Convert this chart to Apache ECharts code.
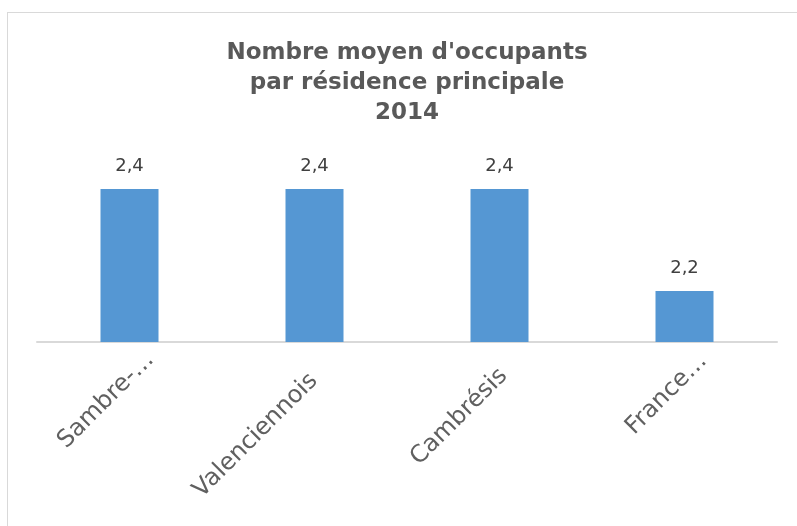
<!DOCTYPE html>
<html>
<head>
<meta charset="UTF-8">
<title>Nombre moyen d'occupants</title>
<script src="https://cdn.jsdelivr.net/npm/echarts@6/dist/echarts.min.js"></script>
<style>
  html, body { margin: 0; padding: 0; background: #fff; overflow: hidden; }
  #frame { position: absolute; left: 7px; top: 12px; width: 900px; height: 600px;
           border-left: 1px solid #d9d9d9; border-top: 1px solid #d9d9d9; }
  #main { position: absolute; left: 0; top: 0; width: 797px; height: 526px; }
</style>
</head>
<body>
    <div id="frame"></div>
    <div id="main"></div>

    <script type="text/javascript">
        // categories (labels truncated as in the original)
        var categories = ['Sambre-…', 'Valenciennois', 'Cambrésis', 'France…'];
        var values = [2.4, 2.4, 2.4, 2.2];
        var titleLines = ["Nombre moyen d'occupants", 'par résidence principale', '2014'];

        // how far each rotated label is pushed back along its own direction (px)
        var labelPad = [0, 30, 23, 2];

        var labelFont = 'DejaVu Sans';
        var rich = {};
        labelPad.forEach(function (p, i) {
            rich['p' + i] = {
                padding: [0, p, 0, 0],
                fontFamily: labelFont,
                fontSize: 24,
                color: '#606060'
            };
        });

        var myChart = echarts.init(document.getElementById('main'));

        var option = {
            animation: false,
            title: {
                text: titleLines.join('\n'),
                left: 402,
                top: 33,
                textAlign: 'center',
                textStyle: {
                    fontFamily: 'DejaVu Sans',
                    fontWeight: 'bold',
                    fontSize: 23,
                    lineHeight: 30,
                    color: '#595959'
                }
            },
            grid: [
                { left: 37, right: 20, top: 138, bottom: 184 },
                // same plot, shifted a bit right, only used to place the rotated labels
                { left: 58, right: -1, top: 138, bottom: 184 }
            ],
            xAxis: [{
                type: 'category',
                gridIndex: 0,
                data: categories,
                axisLine: { lineStyle: { color: '#d9d9d9', width: 2 } },
                axisTick: { show: false },
                axisLabel: { show: false }
            }, {
                type: 'category',
                gridIndex: 1,
                data: categories,
                axisLine: { show: false },
                axisTick: { show: false },
                axisLabel: {
                    rotate: 45,
                    interval: 0,
                    margin: 14,
                    formatter: function (v, i) { return '{p' + i + '|' + v + '}'; },
                    rich: rich
                }
            }],
            yAxis: [{
                type: 'value',
                gridIndex: 0,
                min: 2.1,
                max: 2.5,
                show: false,
                splitLine: { show: false }
            }, {
                type: 'value',
                gridIndex: 1,
                min: 2.1,
                max: 2.5,
                show: false
            }],
            series: [{
                type: 'bar',
                data: values,
                barWidth: 58,
                itemStyle: { color: '#5597d3' },
                label: {
                    show: true,
                    position: 'top',
                    distance: 14,
                    fontFamily: 'DejaVu Sans',
                    fontSize: 18,
                    color: '#404040',
                    formatter: function (p) { return p.value.toFixed(1).replace('.', ','); }
                }
            }]
        };
        myChart.setOption(option);
    </script>
</body>
</html>
